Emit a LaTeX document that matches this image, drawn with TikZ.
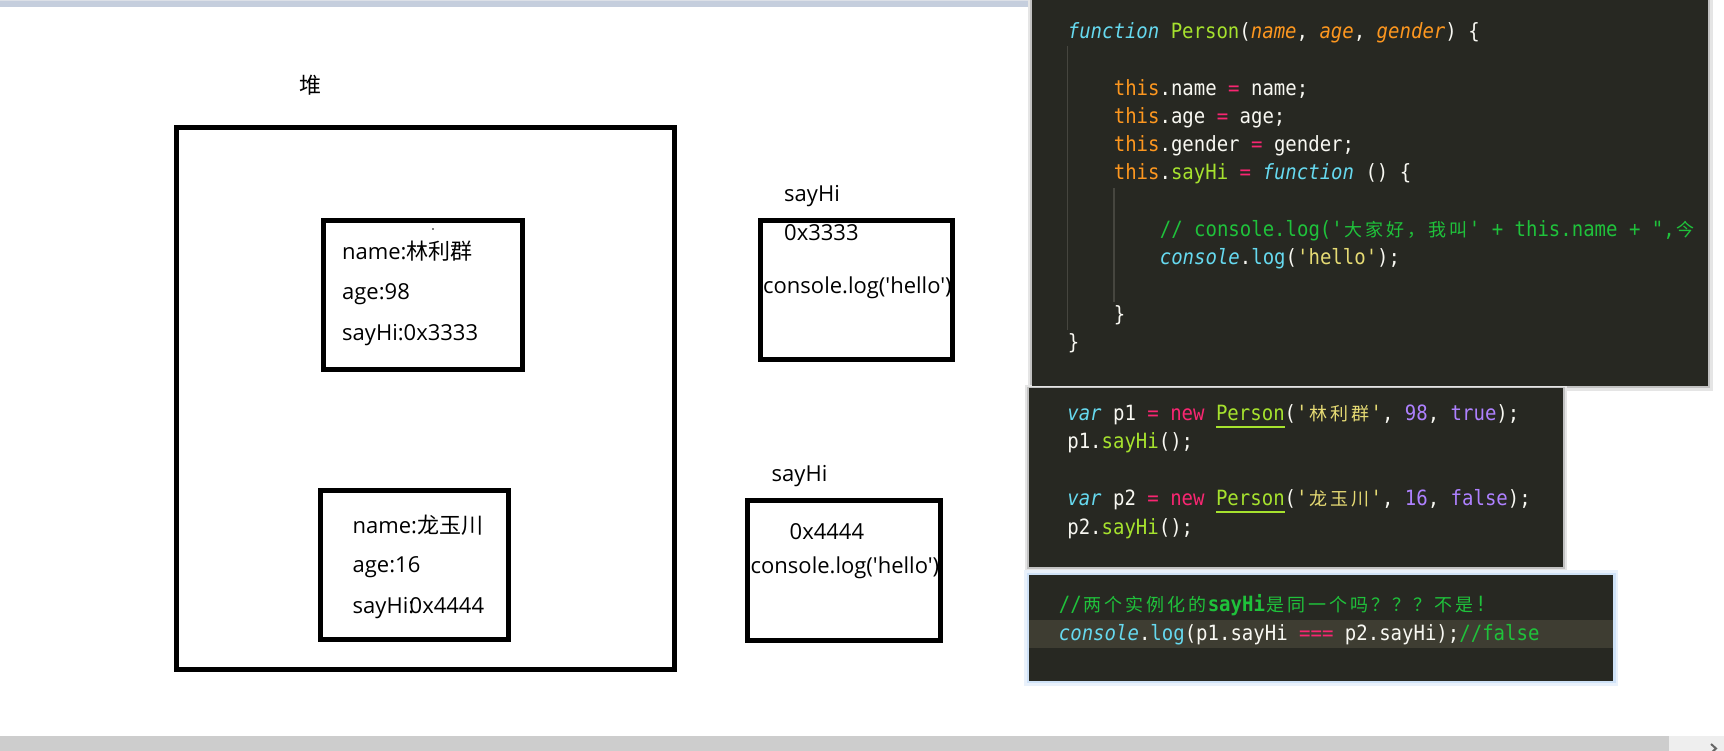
\documentclass[tikz,border=0pt]{standalone}
\usepackage{fontspec}
\newfontfamily\lat{Open Sans}
\newfontfamily\cjk{Noto Sans CJK SC}
\newfontfamily\code{DejaVu Sans Mono}[FakeStretch=0.905]
\definecolor{mkbg}{HTML}{272822}
\definecolor{mkfg}{HTML}{F8F8F2}
\definecolor{mkcyan}{HTML}{66D9EF}
\definecolor{mkgreen}{HTML}{A6E22E}
\definecolor{mkorange}{HTML}{FD971F}
\definecolor{mkpink}{HTML}{F92672}
\definecolor{mkyellow}{HTML}{E6DB74}
\definecolor{mkpurple}{HTML}{AE81FF}
\definecolor{mkcomment}{HTML}{1FC23B}
\definecolor{mkguide}{HTML}{46463F}
\definecolor{mkhl}{HTML}{3E3D32}
\definecolor{topbar}{HTML}{C5CEDD}
\definecolor{topline}{HTML}{DCE0E7}
\definecolor{botbar}{HTML}{CDCDCD}
\definecolor{botsq}{HTML}{EEEEEE}
\definecolor{glow}{HTML}{BFD8F4}
\newcommand\codefont{\code\fontsize{21pt}{24pt}\selectfont}
\newcommand\lfont{\lat\fontsize{22pt}{26pt}\selectfont}
\newcommand\hz[1]{{\cjk #1}}
\newcommand\cjkc[1]{\makebox[21pt][c]{\cjk\fontsize{18pt}{20pt}\selectfont #1}}
\newcommand\Kcy[1]{{\color{mkcyan}\itshape #1}}
\newcommand\Kcn[1]{{\color{mkcyan}#1}}
\newcommand\Kgr[1]{{\color{mkgreen}#1}}
\newcommand\Kor[1]{{\color{mkorange}#1}}
\newcommand\Koi[1]{{\color{mkorange}\itshape #1}}
\newcommand\Kpk[1]{{\color{mkpink}#1}}
\newcommand\Kye[1]{{\color{mkyellow}#1}}
\newcommand\Kpu[1]{{\color{mkpurple}#1}}
\newcommand\Kcm[1]{{\color{mkcomment}#1}}
\tikzset{
  memtext/.style={anchor=base west, inner sep=0pt, font=\lfont, text=black},
  membox/.style={draw=black, line width=5pt, inner sep=0pt},
  codeline/.style={anchor=base west, inner sep=0pt, font=\codefont, text=mkfg},
  guide/.style={draw=mkguide, line width=1.3pt},
}
\begin{document}
\begin{tikzpicture}[x=1pt,y=-1pt]
\useasboundingbox (0,0) rectangle (1724,751);
\fill[white] (0,0) rectangle (1724,751);
% window chrome
\fill[topline] (0,0) rectangle (1032,1.5);
\fill[topbar] (0,1.5) rectangle (1032,7);
\fill[botbar] (0,736) rectangle (1669,751);
\fill[botsq] (1669,736) rectangle (1724,751);
\draw[black!60, line width=2pt] (1711,744) -- (1716,748.5) -- (1711,753);

% ---------- memory diagram ----------
\node[memtext] (heaplbl) at (299.5,93.5) {\hz{堆}};
\node[membox, minimum width=497.5pt, minimum height=542pt] (heap) at (425.5,398.5) {};
\node[membox, minimum width=198.5pt, minimum height=149pt] (obj1) at (422.75,295) {};
\node[membox, minimum width=187.5pt, minimum height=149pt] (obj2) at (414.25,565) {};
\node[membox, minimum width=192.5pt, minimum height=138.4pt] (fn1) at (856.25,290) {};
\node[membox, minimum width=193pt, minimum height=139.2pt] (fn2) at (844.3,570.4) {};
\fill (433,229) circle (0.9);

\node[memtext] (o1name) at (342,260) {name:\hz{林利群}};
\node[memtext] (o1age) at (342,299.3) {age:98};
\node[memtext] (o1fn) at (342,340.7) {sayHi:0x3333};
\node[memtext] (o2name) at (352.5,533.3) {name:\hz{龙玉川}};
\node[memtext] (o2age) at (352.5,572.7) {age:16};
\node[memtext] (o2fnk) at (352.5,613.3) {sayHi:};
\node[memtext] (o2fnv) at (409.5,613.3) {0x4444};
\node[memtext] (f1lbl) at (784,201.7) {sayHi};
\node[memtext] (f1addr) at (784,241) {0x3333};
\node[memtext] (f1body) at (763,293.3) {console.log('hello')};
\node[memtext] (f2lbl) at (771.5,481.7) {sayHi};
\node[memtext] (f2addr) at (789.5,539.3) {0x4444};
\node[memtext] (f2body) at (750.5,573.3) {console.log('hello')};

% ---------- code panels ----------
\fill[black!10] (1028,-3) rectangle (1713,391);
\fill[black!24] (1030,-1) rectangle (1710,388);
\fill[black!10] (1025,385) rectangle (1567,571);
\fill[black!24] (1027,387) rectangle (1565,568.5);
\fill[glow!35] (1024,570) rectangle (1618,685.7);
\fill[glow!75] (1026.5,572.5) rectangle (1615.5,683.2);

\fill[mkbg] (1032,0) rectangle (1708,386);
\fill[mkbg] (1028.5,388) rectangle (1563,566.7);
\fill[mkbg] (1029,575) rectangle (1613,680.7);
\fill[mkhl] (1029,620) rectangle (1613,647.7);

% panel 1
\draw[guide] (1067.5,46) -- (1067.5,330);
\draw[guide] (1114,188) -- (1114,302);
\begin{scope}
\clip (1032,0) rectangle (1708,386);
\node[codeline] (c1) at (1067.6,38.5) {\Kcy{function} \Kgr{Person}(\Koi{name}, \Koi{age}, \Koi{gender}) \{};
\node[codeline] (c2) at (1113.6,95.1) {\Kor{this}.name \Kpk{=} name;};
\node[codeline] (c3) at (1113.6,123.4) {\Kor{this}.age \Kpk{=} age;};
\node[codeline] (c4) at (1113.6,151.7) {\Kor{this}.gender \Kpk{=} gender;};
\node[codeline] (c5) at (1113.6,180) {\Kor{this}.\Kgr{sayHi} \Kpk{=} \Kcy{function} () \{};
\node[codeline] (c6) at (1159.6,236.6) {\Kcm{// console.log('\cjkc{大}\cjkc{家}\cjkc{好}\cjkc{，}\cjkc{我}\cjkc{叫}' + this.name + ",\cjkc{今}}};
\node[codeline] (c7) at (1159.6,264.9) {\Kcy{console}.\Kcn{log}(\Kye{'hello'});};
\node[codeline] (c8) at (1113.6,321.5) {\}};
\node[codeline] (c9) at (1067.6,349.8) {\}};
\end{scope}

% panel 2
\node[codeline] (d1) at (1067.1,420) {\Kcy{var} p1 \Kpk{=} \Kpk{new} \Kgr{Person}(\Kye{'\cjkc{林}\cjkc{利}\cjkc{群}'}, \Kpu{98}, \Kpu{true});};
\node[codeline] (d2) at (1067.1,448.5) {p1.\Kgr{sayHi}();};
\node[codeline] (d3) at (1067.1,505.5) {\Kcy{var} p2 \Kpk{=} \Kpk{new} \Kgr{Person}(\Kye{'\cjkc{龙}\cjkc{玉}\cjkc{川}'}, \Kpu{16}, \Kpu{false});};
\node[codeline] (d4) at (1067.1,534) {p2.\Kgr{sayHi}();};
\draw[mkgreen, line width=2pt] (1216.3,426.7) -- (1285.2,426.7);
\draw[mkgreen, line width=2pt] (1216.3,512.2) -- (1285.2,512.2);

% panel 3
\node[codeline] (e1) at (1058.7,611.7) {\Kcm{//\cjkc{两}\cjkc{个}\cjkc{实}\cjkc{例}\cjkc{化}\cjkc{的}\textbf{sayHi}\cjkc{是}\cjkc{同}\cjkc{一}\cjkc{个}\cjkc{吗}\cjkc{？}\cjkc{？}\cjkc{？}\cjkc{不}\cjkc{是}!}};
\node[codeline] (e2) at (1058.7,640) {\Kcy{console}.\Kcn{log}(p1.sayHi \Kpk{===} p2.sayHi);\Kcm{//false}};
\end{tikzpicture}
\end{document}
